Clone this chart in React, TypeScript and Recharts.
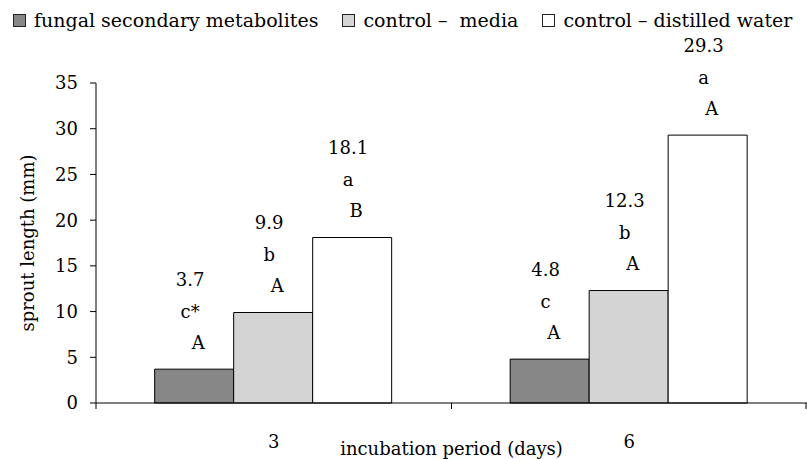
import React from 'react';
import { BarChart, Bar, XAxis, YAxis, Legend, LabelList, Label } from 'recharts';

const categories = ['3', '6'];
const fungalValues = [3.7, 4.8];
const mediaValues = [9.9, 12.3];
const waterValues = [18.1, 29.3];
const fungalLower = ['c*', 'c'];
const fungalUpper = ['A', 'A'];
const mediaLower = ['b', 'b'];
const mediaUpper = ['A', 'A'];
const waterLower = ['a', 'a'];
const waterUpper = ['B', 'A'];
const yTicks = [0, 5, 10, 15, 20, 25, 30, 35];

const seriesNames = ['fungal secondary metabolites', 'control \u2013  media', 'control \u2013 distilled water'];
const seriesColors = ['#878787', '#d4d4d4', '#ffffff'];

const data = categories.map((c, i) => ({
  cat: c,
  fungal: fungalValues[i],
  media: mediaValues[i],
  water: waterValues[i],
}));

const FONT = 'DejaVu Serif';
const FS = 18;
const W = 807;
const H = 459;
const Y_AXIS_W = 96;
const BAND = (W - Y_AXIS_W) / categories.length;

const makeLabel = (lower: string[], upper: string[]) => (props: any) => {
  const { x, y, width, value, index } = props;
  const cx = Number(x) + Number(width) / 2;
  const top = Number(y);
  const st = { fontFamily: FONT, fontSize: FS, fill: '#000' } as any;
  return (
    <g>
      <text x={cx - 4} y={top - 90} textAnchor="middle" dominantBaseline="central" style={st}>{value}</text>
      <text x={cx - 4} y={top - 58} textAnchor="middle" dominantBaseline="central" style={st}>{lower[index]}</text>
      <text x={cx + 4} y={top - 27} textAnchor="middle" dominantBaseline="central" style={st}>{upper[index]}</text>
    </g>
  );
};

const XTick = (props: any) => {
  const { x, y, payload, index } = props;
  const left = x - BAND / 2;
  const right = x + BAND / 2;
  return (
    <g>
      <line x1={left} y1={y} x2={left} y2={y + 6} stroke="#000" />
      {index === categories.length - 1 && <line x1={right - 1} y1={y} x2={right - 1} y2={y + 6} stroke="#000" />}
      <text x={x} y={y + 38} textAnchor="middle" dominantBaseline="central" style={{ fontFamily: FONT, fontSize: FS, fill: '#000' }}>
        {payload.value}
      </text>
    </g>
  );
};

const LegendContent = () => (
  <div style={{ display: 'flex', alignItems: 'center', height: 40, paddingLeft: 13, fontFamily: FONT, fontSize: 19, color: '#000', whiteSpace: 'pre' }}>
    {seriesNames.map((n, i) => (
      <div key={n} style={{ display: 'flex', alignItems: 'center', marginRight: 24 }}>
        <div style={{ width: 11, height: 11, border: '1px solid #222', background: seriesColors[i] }} />
        <span style={{ marginLeft: 8 }}>{n}</span>
      </div>
    ))}
  </div>
);

export default function App() {
  return (
    <div style={{ position: 'absolute', left: 0, top: 0, width: W, height: H, overflow: 'hidden', background: '#fff' }}>
      <BarChart
        width={W}
        height={H}
        data={data}
        margin={{ top: 43, right: 0, bottom: 0, left: 0 }}
        barCategoryGap="16.5%"
        barGap={0}
      >
        <Legend verticalAlign="top" align="left" content={<LegendContent />} wrapperStyle={{ top: 0, left: 0, width: W, height: 40 }} />
        <XAxis
          dataKey="cat"
          height={56}
          axisLine={{ stroke: '#000' }}
          tickLine={false}
          tickSize={0}
          tickMargin={0}
          tick={<XTick />}
          interval={0}
        >
          <Label
            content={(p: any) => {
              const vb = p.viewBox || {};
              return (
                <text x={vb.x + vb.width / 2} y={vb.y + 45} textAnchor="middle" dominantBaseline="central" style={{ fontFamily: FONT, fontSize: FS, fill: '#000' }}>
                  incubation period (days)
                </text>
              );
            }}
          />
        </XAxis>
        <YAxis
          width={Y_AXIS_W}
          domain={[0, 35]}
          ticks={yTicks}
          interval={0}
          axisLine={{ stroke: '#000' }}
          tickLine={{ stroke: '#000' }}
          tickSize={6}
          tickMargin={12}
          tick={{ fontFamily: FONT, fontSize: FS, fill: '#000' }}
        >
          <Label
            content={(p: any) => {
              const vb = p.viewBox || {};
              const cx = vb.x + 27;
              const cy = vb.y + vb.height / 2;
              return (
                <text x={cx} y={cy} transform={`rotate(-90 ${cx} ${cy})`} textAnchor="middle" dominantBaseline="central" style={{ fontFamily: FONT, fontSize: FS, fill: '#000' }}>
                  sprout length (mm)
                </text>
              );
            }}
          />
        </YAxis>
        <Bar dataKey="fungal" name={seriesNames[0]} fill={seriesColors[0]} stroke="#000" strokeWidth={1} isAnimationActive={false}>
          <LabelList dataKey="fungal" content={makeLabel(fungalLower, fungalUpper)} />
        </Bar>
        <Bar dataKey="media" name={seriesNames[1]} fill={seriesColors[1]} stroke="#000" strokeWidth={1} isAnimationActive={false}>
          <LabelList dataKey="media" content={makeLabel(mediaLower, mediaUpper)} />
        </Bar>
        <Bar dataKey="water" name={seriesNames[2]} fill={seriesColors[2]} stroke="#000" strokeWidth={1} isAnimationActive={false}>
          <LabelList dataKey="water" content={makeLabel(waterLower, waterUpper)} />
        </Bar>
      </BarChart>
    </div>
  );
}
